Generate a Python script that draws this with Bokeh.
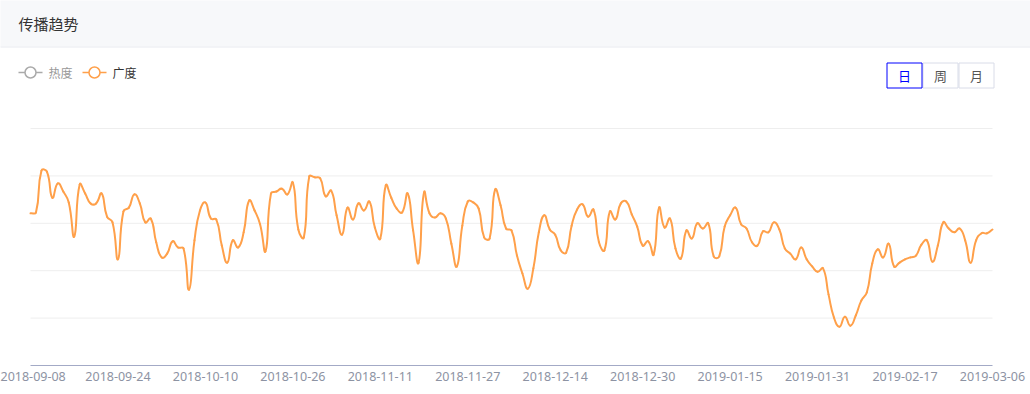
import numpy as np
import pandas as pd
from bokeh.plotting import figure
from bokeh.models import Range1d, FixedTicker
from bokeh.core.properties import value
from bokeh.embed import file_html
from bokeh.resources import INLINE

# ---------------- data ----------------
start_date = "2018-09-08"
end_date = "2019-03-06"
missing_dates = ["2018-12-05", "2019-02-05", "2019-02-25"]
tick_step = 16

guangdu = [
    321, 323, 411, 409, 354, 384, 367, 344, 272, 382,
    363, 342, 342, 363, 314, 302, 224, 325, 333, 361,
    342, 302, 310, 260, 228, 236, 262, 249, 247, 160,
    264, 327, 344, 310, 308, 253, 217, 264, 249, 281,
    348, 327, 298, 241, 363, 367, 373, 361, 386, 287,
    270, 399, 397, 395, 357, 369, 317, 276, 333, 308,
    342, 327, 346, 291, 268, 380, 354, 331, 323, 363,
    285, 217, 365, 321, 312, 321, 310, 257, 209, 295,
    346, 344, 331, 270, 268, 371, 338, 289, 285, 232,
    194, 162, 205, 281, 317, 287, 276, 243, 238, 295,
    329, 340, 314, 329, 260, 243, 325, 308, 342, 346,
    319, 293, 253, 262, 234, 333, 291, 310, 247, 226,
    285, 268, 300, 289, 300, 230, 230, 293, 317, 333,
    298, 289, 260, 253, 283, 281, 302, 287, 247, 236,
    224, 249, 224, 209, 198, 205, 150, 101, 82, 103,
    84, 106, 137, 154, 215, 245, 228, 257, 209, 217,
    224, 228, 232, 255, 264, 219, 253, 302, 289, 281,
    289, 264, 217, 264, 279, 279, 287,
]
grid_values = [100, 200, 300, 400, 500]
series_names = ["热度", "广度"]
period_buttons = ["日", "周", "月"]
title_text = "传播趋势"

dates = [d.strftime("%Y-%m-%d") for d in pd.date_range(start_date, end_date)
         if d.strftime("%Y-%m-%d") not in missing_dates]
n = len(guangdu)
idx = list(range(n))

# ---------------- geometry (canvas pixels -> data) ----------------
W, H = 1030, 394
X0 = 30.0
X1 = 992.0
DX = (X1 - X0) / (n - 1)
Y_AXIS = 365.0
FRAME_BOTTOM = 367
PPU = (365.0 - 128.0) / 500.0


def fx(px):
    return (px - X0) / DX


def fy(py):
    return (Y_AXIS - py) / PPU


p = figure(width=W, height=H, output_backend="svg", toolbar_location=None,
           x_range=Range1d(fx(0), fx(W)),
           y_range=Range1d(fy(FRAME_BOTTOM), fy(0)),
           y_axis_location=None,
           min_border_left=0, min_border_right=0, min_border_top=0,
           min_border_bottom=H - FRAME_BOTTOM)
p.outline_line_color = None
p.background_fill_color = "white"
p.border_fill_color = "white"
p.grid.grid_line_color = None

# header band
p.quad(left=[fx(-20)], right=[fx(1050)], top=[fy(-20)], bottom=[fy(46)],
       fill_color="#f7f8fa", line_color=None)
p.segment(x0=[fx(-20)], x1=[fx(1050)], y0=[fy(46.5)], y1=[fy(46.5)],
          line_color="#e8eaf0", line_width=1)
p.text(x=[fx(18)], y=[fy(23)], text=[title_text],
       text_font=value("Noto Sans CJK SC"), text_font_size=value("15px"),
       text_color="#333333", text_baseline="middle", text_align="left")

# legend
leg_cols = ["#aaaaaa", "#ffa04a"]
leg_text_cols = ["#999999", "#333333"]
leg_x = [18, 82]
for k in range(2):
    p.segment(x0=[fx(leg_x[k])], x1=[fx(leg_x[k] + 24)], y0=[fy(72)], y1=[fy(72)],
              line_color=leg_cols[k], line_width=1.5)
    p.scatter(x=[fx(leg_x[k] + 12)], y=[fy(72)], marker="circle", size=11,
              fill_color="white", line_color=leg_cols[k], line_width=1.5)
    p.text(x=[fx(leg_x[k] + 30)], y=[fy(72)], text=[series_names[k]],
           text_font=value("Noto Sans CJK SC"), text_font_size=value("12px"),
           text_color=leg_text_cols[k], text_baseline="middle", text_align="left")

# period buttons
bx = [886, 922, 958]
for k in [1, 2, 0]:
    sel = (k == 0)
    p.quad(left=[fx(bx[k] + 0.5)], right=[fx(bx[k] + 35.5)], top=[fy(62.5)], bottom=[fy(87.5)],
           fill_color="white", line_color="#0000ff" if sel else "#d9dce8", line_width=1)
    p.text(x=[fx(bx[k] + 18)], y=[fy(75)], text=[period_buttons[k]],
           text_font=value("Noto Sans CJK SC"), text_font_size=value("13px"),
           text_color="#0000ff" if sel else "#555555", text_baseline="middle", text_align="center")

# grid lines and axis line
p.segment(x0=[0] * len(grid_values), x1=[n - 1] * len(grid_values),
          y0=grid_values, y1=grid_values, line_color="#eeeeee", line_width=1)
p.segment(x0=[0], x1=[n - 1], y0=[0], y1=[0], line_color="#a3aac6", line_width=1)

# smoothed line (echarts-like bezier smoothing, computed in pixel space)
px = np.array(idx, dtype=float) * DX
py = np.array(guangdu, dtype=float) * PPU
smooth = 0.5
cin_x = np.zeros(n); cin_y = np.zeros(n); cout_x = np.zeros(n); cout_y = np.zeros(n)
for i in range(n):
    pi = max(i - 1, 0)
    ni = min(i + 1, n - 1)
    vx = px[ni] - px[pi]
    vy = py[ni] - py[pi]
    d0 = np.hypot(px[i] - px[pi], py[i] - py[pi])
    d1 = np.hypot(px[ni] - px[i], py[ni] - py[i])
    s = d0 + d1
    r1 = d1 / s if s > 0 else 0.5
    r0 = d0 / s if s > 0 else 0.5
    cout_x[i] = px[i] + vx * smooth * r1
    cout_y[i] = py[i] + vy * smooth * r1
    cin_x[i] = px[i] - vx * smooth * r0
    cin_y[i] = py[i] - vy * smooth * r0

p.bezier(x0=(px[:-1] / DX).tolist(), y0=(py[:-1] / PPU).tolist(),
         x1=(px[1:] / DX).tolist(), y1=(py[1:] / PPU).tolist(),
         cx0=(cout_x[:-1] / DX).tolist(), cy0=(cout_y[:-1] / PPU).tolist(),
         cx1=(cin_x[1:] / DX).tolist(), cy1=(cin_y[1:] / PPU).tolist(),
         line_color="#ffa04a", line_width=2, line_cap="round")

# x axis labels
ticks = list(range(0, n, tick_step))
ax = p.xaxis[0]
ax.ticker = FixedTicker(ticks=ticks, minor_ticks=[])
ax.major_label_overrides = {t: dates[t] for t in ticks}
ax.axis_line_color = None
ax.major_tick_line_color = None
ax.minor_tick_line_color = None
ax.major_tick_out = 0
ax.major_tick_in = 0
ax.major_label_standoff = 4
ax.major_label_text_font = "Noto Sans"
ax.major_label_text_font_size = "12.5px"
ax.major_label_text_color = "#8d93a3"

open("out.html", "w").write(file_html(p, INLINE))
